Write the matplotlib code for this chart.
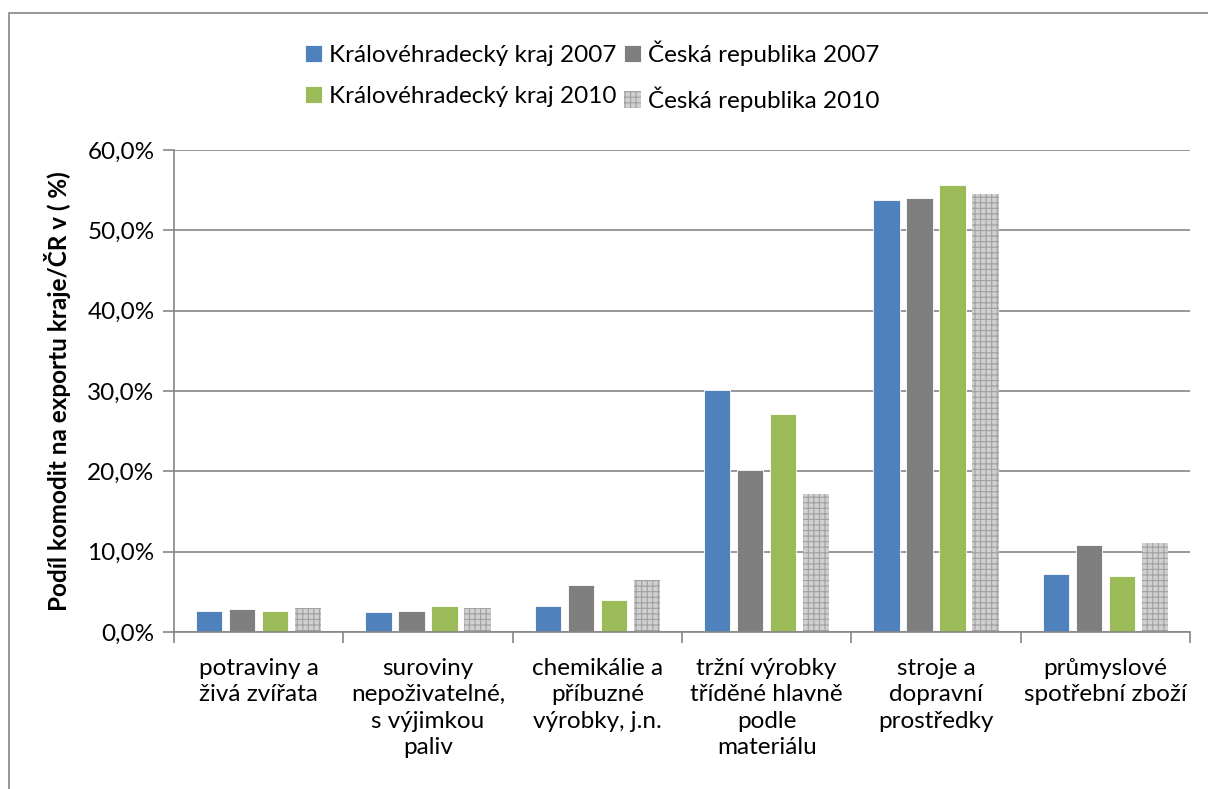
import numpy as np
import matplotlib.pyplot as plt
from matplotlib.patches import Rectangle
from matplotlib.ticker import FuncFormatter

plt.rcParams['font.family'] = ['Lato', 'DejaVu Sans']
plt.rcParams['hatch.linewidth'] = 0.8

categories = ['potraviny a\nživá zvířata',
              'suroviny\nnepoživatelné,\ns výjimkou\npaliv',
              'chemikálie a\npříbuzné\nvýrobky, j.n.',
              'tržní výrobky\ntříděné hlavně\npodle\nmateriálu',
              'stroje a\ndopravní\nprostředky',
              'průmyslové\nspotřební zboží']
series_names = ['Královéhradecký kraj 2007', 'Česká republika 2007',
                'Královéhradecký kraj 2010', 'Česká republika 2010']
kh_2007 = [2.6, 2.5, 3.2, 30.1, 53.8, 7.2]
cr_2007 = [2.9, 2.6, 5.9, 20.2, 54.0, 10.8]
kh_2010 = [2.6, 3.2, 4.0, 27.1, 55.6, 7.0]
cr_2010 = [3.0, 3.0, 6.5, 17.2, 54.5, 11.1]

fs = 17.5

fig = plt.figure(figsize=(12.08, 7.89), dpi=100)
ax = fig.add_axes([174/1208, 1 - 632/789, (1190-174)/1208, (632-150)/789])

# frame around the whole chart
fig.patches.append(Rectangle((9/1208, -0.05), 1.0, 1.05 - 13/789, transform=fig.transFigure,
                             fill=False, edgecolor='#868686', linewidth=1.2))

x = np.arange(len(categories))
step = 0.195
w = 0.155
b1 = ax.bar(x - 1.5*step, kh_2007, w, color='#4F81BD', edgecolor='white', linewidth=0.6, label=series_names[0])
b2 = ax.bar(x - 0.5*step, cr_2007, w, color='#7F7F7F', edgecolor='white', linewidth=0.6, label=series_names[1])
b3 = ax.bar(x + 0.5*step, kh_2010, w, color='#9BBB59', edgecolor='white', linewidth=0.6, label=series_names[2])
b4 = ax.bar(x + 1.5*step, cr_2010, w, color='#D0D0D0', edgecolor='#A0A0A0', linewidth=0, hatch='+++',
            label=series_names[3])

ax.set_xlim(-0.5, len(categories) - 0.5)
ax.set_ylim(0, 60)
ax.set_yticks(np.arange(0, 61, 10))
ax.yaxis.set_major_formatter(FuncFormatter(lambda v, p: f'{v:.1f}%'.replace('.', ',')))
ax.grid(axis='y', color='#868686', linewidth=1.2)
ax.set_axisbelow(True)
for s in ['top', 'right']:
    ax.spines[s].set_visible(False)
for s in ['left', 'bottom']:
    ax.spines[s].set_color('#868686')
    ax.spines[s].set_linewidth(1.2)

ax.set_xticks(x)
ax.set_xticklabels(categories, fontsize=fs, linespacing=1.3, va='top')
ax.set_xticks(np.arange(-0.5, len(categories)), minor=True)
ax.tick_params(axis='x', which='major', length=0, pad=19)
ax.tick_params(axis='x', which='minor', length=8, width=1.2, color='#868686', direction='out')
ax.tick_params(axis='y', length=8, width=1.2, color='#868686', labelsize=fs, pad=6)

ax.set_ylabel('Podíl komodit na exportu kraje/ČR v ( %)', fontsize=fs, fontweight='bold', labelpad=12)

fig.legend([b1, b3, b2, b4], [series_names[0], series_names[2], series_names[1], series_names[3]],
           ncol=2, loc='center', bbox_to_anchor=(592/1208, 1 - 76/789), frameon=False,
           fontsize=fs, handlelength=0.7, handleheight=0.7, handletextpad=0.3,
           columnspacing=0.3, labelspacing=0.85)

fig.savefig('out.png', dpi=100)
